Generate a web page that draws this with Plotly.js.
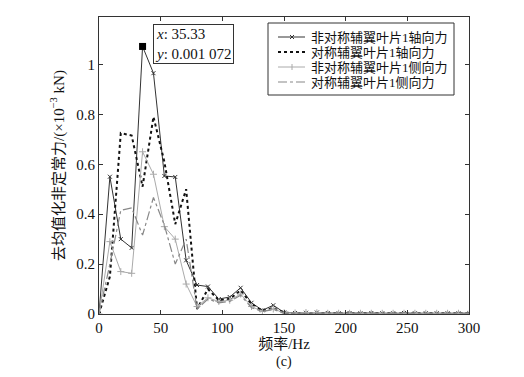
<!DOCTYPE html>
<html>
<head>
<meta charset="utf-8">
<script src="https://cdn.plot.ly/plotly-3.0.1.min.js"></script>
<style>html,body{margin:0;padding:0;background:#fff;}#chart{width:524px;height:377px;}</style>
</head>
<body>
<div id="chart"></div>
<script>
// frequency (Hz)
var freq = [0, 8.83, 17.67, 26.50, 35.33, 44.16, 53.00, 61.83, 70.66, 79.49, 88.33, 97.16, 105.99, 114.82, 123.66, 132.49, 141.32, 150.15, 158.99, 167.82, 176.65, 185.48, 194.32, 203.15, 211.98, 220.81, 229.65, 238.48, 247.31, 256.14, 264.98, 273.81, 282.64, 291.47, 300.31];
// values in 10^-3 kN
var asymAxial = [0, 0.55, 0.30, 0.265, 1.072, 0.965, 0.553, 0.549, 0.215, 0.116, 0.11, 0.06, 0.068, 0.105, 0.045, 0.015, 0.035, 0.006, 0.004, 0.005, 0.006, 0.004, 0.003, 0.004, 0.003, 0.004, 0.003, 0.003, 0.004, 0.003, 0.003, 0.003, 0.003, 0.003, 0.003];
var symAxial = [0, 0.15, 0.725, 0.715, 0.51, 0.79, 0.61, 0.36, 0.50, 0.02, 0.10, 0.055, 0.06, 0.095, 0.04, 0.012, 0.025, 0.005, 0.004, 0.005, 0.004, 0.003, 0.003, 0.003, 0.003, 0.003, 0.003, 0.003, 0.003, 0.003, 0.003, 0.003, 0.003, 0.003, 0.003];
var asymLateral = [0, 0.29, 0.17, 0.163, 0.65, 0.56, 0.35, 0.30, 0.12, 0.03, 0.065, 0.05, 0.055, 0.08, 0.03, 0.01, 0.02, 0.005, 0.004, 0.006, 0.005, 0.003, 0.003, 0.003, 0.003, 0.003, 0.003, 0.003, 0.003, 0.003, 0.003, 0.003, 0.003, 0.003, 0.003];
var symLateral = [0, 0.2, 0.415, 0.425, 0.316, 0.467, 0.356, 0.20, 0.30, 0.02, 0.06, 0.045, 0.05, 0.075, 0.025, 0.01, 0.018, 0.004, 0.003, 0.004, 0.004, 0.003, 0.003, 0.003, 0.003, 0.003, 0.003, 0.003, 0.003, 0.003, 0.003, 0.003, 0.003, 0.003, 0.003];
var seriesNames = ['非对称辅翼叶片1轴向力', '对称辅翼叶片1轴向力', '非对称辅翼叶片1侧向力', '对称辅翼叶片1侧向力'];
var tipX = [35.33];
var tipY = [1.072];
var xTicks = [0, 50, 100, 150, 200, 250, 300];
var yTicks = [0, 0.2, 0.4, 0.6, 0.8, 1];
var yTickText = ['0', '0.2', '0.4', '0.6', '0.8', '1'];

var serif = 'Liberation Serif, Noto Sans CJK SC, serif';
var W = 524, H = 377, ML = 99, MR = 55, MT = 17, MB = 63;
var PW = W - ML - MR, PH = H - MT - MB;
function px(x) { return (x - ML) / PW; }
function py(y) { return (H - MB - y) / PH; }

var styles = [
  {line: {color: '#333', width: 1}, marker: 'x', mcolor: '#333'},
  {line: {color: '#111', width: 2, dash: 'dot'}},
  {line: {color: '#aaa', width: 1}, marker: '+', mcolor: '#aaa'},
  {line: {color: '#888', width: 1.2, dash: 'dashdot'}}
];

var traces = [
  {x: freq, y: asymAxial, name: seriesNames[0], mode: 'lines+markers', line: styles[0].line,
   marker: {symbol: 'x-thin', size: 4, color: '#333', line: {color: '#333', width: 1}}},
  {x: freq, y: symAxial, name: seriesNames[1], mode: 'lines', line: styles[1].line},
  {x: freq, y: asymLateral, name: seriesNames[2], mode: 'lines+markers', line: styles[2].line,
   marker: {symbol: 'cross-thin', size: 5, color: '#aaa', line: {color: '#aaa', width: 1}}},
  {x: freq, y: symLateral, name: seriesNames[3], mode: 'lines', line: styles[3].line},
  {x: tipX, y: tipY, mode: 'markers', showlegend: false, marker: {symbol: 'square', size: 7, color: '#000'}}
];

// legend drawn as shapes + annotations (compact like the reference)
var shapes = [];
var annotations = [];
var lgBox = {x0: 268, x1: 454, y0: 23, y1: 95};
shapes.push({type: 'rect', xref: 'paper', yref: 'paper', x0: px(lgBox.x0), x1: px(lgBox.x1),
             y0: py(lgBox.y1), y1: py(lgBox.y0), line: {color: '#333', width: 1}, fillcolor: '#fff', layer: 'above'});
var rowY = [37, 52, 67, 82];
for (var i = 0; i < seriesNames.length; i++) {
  var yy = rowY[i];
  shapes.push({type: 'line', xref: 'paper', yref: 'paper', x0: px(278), x1: px(305), y0: py(yy), y1: py(yy),
               line: styles[i].line, layer: 'above'});
  if (styles[i].marker === 'x') {
    shapes.push({type: 'line', xref: 'paper', yref: 'paper', x0: px(290), x1: px(294), y0: py(yy - 2), y1: py(yy + 2), line: {color: styles[i].mcolor, width: 1}, layer: 'above'});
    shapes.push({type: 'line', xref: 'paper', yref: 'paper', x0: px(290), x1: px(294), y0: py(yy + 2), y1: py(yy - 2), line: {color: styles[i].mcolor, width: 1}, layer: 'above'});
  } else if (styles[i].marker === '+') {
    shapes.push({type: 'line', xref: 'paper', yref: 'paper', x0: px(292), x1: px(292), y0: py(yy - 3), y1: py(yy + 3), line: {color: styles[i].mcolor, width: 1}, layer: 'above'});
  }
  annotations.push({xref: 'paper', yref: 'paper', x: px(309), y: py(yy), xanchor: 'left', yanchor: 'middle',
                    showarrow: false, text: seriesNames[i], font: {family: serif, size: 13, color: '#111'}});
}
annotations.push({x: 44, xref: 'x', xanchor: 'left', y: 1.08, yref: 'y', yanchor: 'middle', showarrow: false,
  text: '<i>x</i>: 35.33<br><i>y</i>: 0.001 072', align: 'left',
  font: {family: serif, size: 15, color: '#111'}, bordercolor: '#333', borderwidth: 1, borderpad: 1, bgcolor: '#fff'});
annotations.push({x: 0.5, xref: 'paper', y: py(362), yref: 'paper', yanchor: 'middle', showarrow: false, text: '(c)',
  font: {family: serif, size: 14, color: '#111'}});

var layout = {
  width: W, height: H,
  margin: {l: ML, r: MR, t: MT, b: MB},
  paper_bgcolor: '#fff', plot_bgcolor: '#fff',
  font: {family: serif, size: 15, color: '#111'},
  showlegend: false,
  xaxis: {range: [0, 300], tickvals: xTicks, ticks: 'inside', ticklen: 4, tickcolor: '#333',
          showline: true, linecolor: '#333', linewidth: 1, mirror: 'ticks', showgrid: false, zeroline: false,
          tickfont: {family: serif, size: 15},
          title: {text: '频率/Hz', font: {family: serif, size: 15}, standoff: 0}},
  yaxis: {range: [0, 1.19], tickvals: yTicks, ticktext: yTickText, ticks: 'inside', ticklen: 4, tickcolor: '#333',
          showline: true, linecolor: '#333', linewidth: 1, mirror: 'ticks', showgrid: false, zeroline: false,
          tickfont: {family: serif, size: 15},
          title: {text: '去均值化非定常力/(×10<sup>−3</sup> kN)', font: {family: serif, size: 15}, standoff: 8}},
  shapes: shapes,
  annotations: annotations
};
Plotly.newPlot('chart', traces, layout, {displayModeBar: false, staticPlot: true});
</script>
</body>
</html>
